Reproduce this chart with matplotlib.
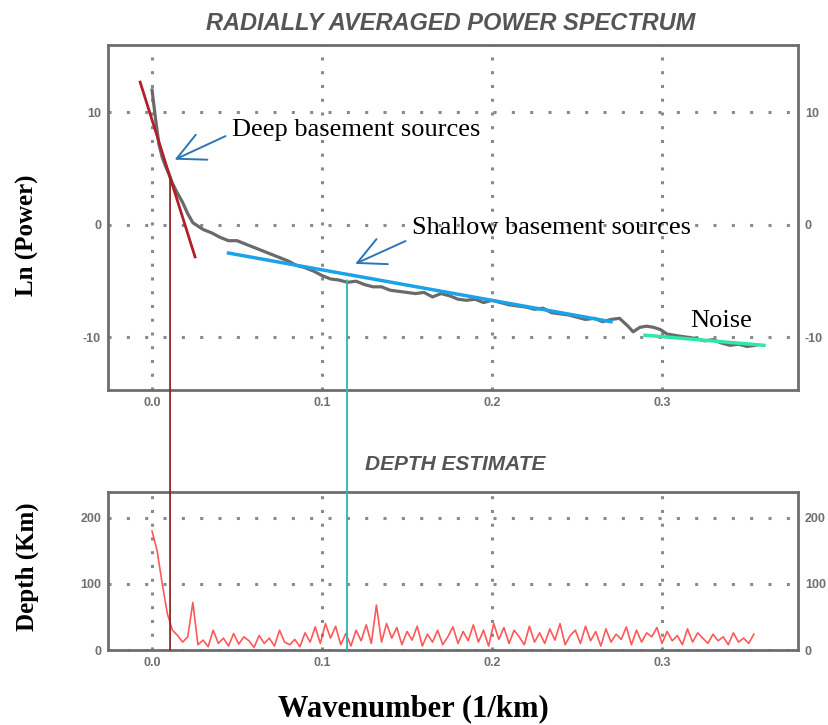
import matplotlib
matplotlib.use('Agg')
import matplotlib.pyplot as plt
from matplotlib.patches import ConnectionPatch

# 径向平均功率谱（灰色曲线）
k_spec = [0.000, 0.002, 0.004, 0.006, 0.008, 0.010, 0.012, 0.015, 0.018, 0.021,
          0.024, 0.027, 0.030, 0.035, 0.040, 0.045, 0.050, 0.055, 0.060, 0.065,
          0.070, 0.075, 0.080, 0.085, 0.090, 0.095, 0.100, 0.105, 0.110, 0.115,
          0.120, 0.125, 0.130, 0.135, 0.140, 0.145, 0.150, 0.155, 0.160, 0.165,
          0.170, 0.175, 0.180, 0.185, 0.190, 0.195, 0.200, 0.205, 0.210, 0.215,
          0.220, 0.225, 0.230, 0.235, 0.240, 0.245, 0.250, 0.255, 0.260, 0.265,
          0.270, 0.275, 0.280, 0.283, 0.287, 0.291, 0.295, 0.299, 0.303, 0.307,
          0.311, 0.316, 0.320, 0.325, 0.330, 0.335, 0.340, 0.345, 0.350, 0.355]
ln_power = [12.0, 9.5, 7.2, 6.0, 5.2, 4.5, 3.7, 2.8, 2.0, 1.0,
            0.2, -0.1, -0.4, -0.7, -1.1, -1.4, -1.4, -1.7, -2.0, -2.3,
            -2.6, -2.9, -3.2, -3.6, -3.8, -4.1, -4.5, -4.8, -4.9, -5.1,
            -5.0, -5.3, -5.5, -5.5, -5.8, -5.9, -6.0, -6.1, -6.0, -6.4,
            -6.1, -6.3, -6.6, -6.7, -6.6, -6.9, -6.7, -6.9, -7.1, -7.2,
            -7.3, -7.5, -7.4, -7.8, -7.9, -8.0, -8.2, -8.4, -8.3, -8.6,
            -8.4, -8.3, -9.0, -9.5, -9.1, -9.0, -9.1, -9.3, -9.7, -9.8,
            -9.9, -10.0, -10.1, -10.3, -10.2, -10.5, -10.7, -10.6, -10.8, -10.7]

# 拟合直线的端点 (x, y)
deep_fit = [(-0.007, 12.7), (0.0253, -2.84)]
shallow_fit = [(0.045, -2.5), (0.27, -8.6)]
noise_fit = [(0.29, -9.8), (0.36, -10.7)]

# 深度估计（红色曲线）
k_depth = [round(i * 0.003, 3) for i in range(119)]
depth = [180, 150, 100, 55, 30, 22, 12, 20, 72, 8,
         15, 5, 30, 10, 18, 6, 25, 9, 20, 14,
         4, 22, 10, 18, 6, 30, 12, 8, 16, 5,
         26, 12, 35, 10, 40, 18, 36, 8, 25, 6,
         30, 14, 38, 10, 68, 12, 40, 18, 34, 8,
         28, 15, 36, 6, 24, 12, 30, 8, 20, 35,
         10, 28, 14, 38, 12, 30, 6, 40, 16, 34,
         10, 30, 20, 8, 36, 12, 26, 10, 32, 15,
         40, 8, 22, 30, 10, 36, 14, 28, 6, 32,
         12, 24, 16, 35, 8, 30, 12, 26, 20, 34,
         10, 28, 14, 22, 8, 32, 12, 26, 18, 10,
         24, 14, 20, 8, 26, 12, 18, 10, 24]

# 两条竖直标记线：(波数, 上图起点)
deep_mark = (0.0106, 4.2)
shallow_mark = (0.1147, -4.9)

spec_ticks = [-10, 0, 10]
depth_ticks = [0, 100, 200]
k_ticks = [0.0, 0.1, 0.2, 0.3]

frame_color = '#6e6e6e'
grid_color = '#8a8a8a'
serif = ['Liberation Serif', 'DejaVu Serif']
sans = ['Liberation Sans', 'DejaVu Sans']

fig = plt.figure(figsize=(8.29, 7.25), dpi=100)
ax1 = fig.add_axes([0.1303, 0.4621, 0.8323, 0.4759])
ax2 = fig.add_axes([0.1303, 0.1034, 0.8323, 0.2179])


def style_axes(ax, yticks):
    ax.set_xticks(k_ticks)
    ax.set_xticklabels(['%.1f' % t for t in k_ticks])
    ax.set_yticks(yticks)
    ax.set_yticklabels([str(t) for t in yticks])
    ax.tick_params(length=0, labelright=True, labelsize=9, labelcolor='#6f6f6f',
                   pad=5)
    for lab in ax.get_xticklabels() + ax.get_yticklabels():
        lab.set_fontweight('bold')
        lab.set_family(sans)
    for sp in ax.spines.values():
        sp.set_color(frame_color)
        sp.set_linewidth(2)
    ax.xaxis.grid(True, color=grid_color, linestyle=(0, (1, 3.5)), linewidth=2.2)
    ax.yaxis.grid(True, color=grid_color, linestyle=(0, (1, 5)), linewidth=2.2)
    ax.set_axisbelow(True)
    ax.set_xlim(-0.0259, 0.38)


# 上图：功率谱
style_axes(ax1, spec_ticks)
ax1.set_ylim(-14.67, 16.0)
ax1.plot(k_spec, ln_power, color='#6a6a6a', lw=2.3)
ax1.plot([p[0] for p in deep_fit], [p[1] for p in deep_fit], color='#b0202a', lw=2)
ax1.plot([p[0] for p in shallow_fit], [p[1] for p in shallow_fit], color='#1aa3e8', lw=2.5)
ax1.plot([p[0] for p in noise_fit], [p[1] for p in noise_fit], color='#2ee8a8', lw=2.5)

arrow = dict(arrowstyle='->, head_length=0.9, head_width=0.45', color='#2e75b6',
             lw=1.4, mutation_scale=22)
ax1.annotate('', xy=(0.0118, 5.7), xytext=(0.0447, 8.0), arrowprops=arrow)
ax1.annotate('', xy=(0.118, -3.56), xytext=(0.1506, -1.33), arrowprops=arrow)
ax1.text(0.047, 8.44, 'Deep basement sources', family=serif, fontsize=19,
         ha='left', va='center')
ax1.text(0.153, -0.27, 'Shallow basement sources', family=serif, fontsize=19,
         ha='left', va='center')
ax1.text(0.3165, -8.5, 'Noise', family=serif, fontsize=19, ha='left', va='center')

# 下图：深度估计
style_axes(ax2, depth_ticks)
ax2.set_ylim(0, 239)
ax2.plot(k_depth, depth, color='#ff3b3b', lw=1.2, alpha=0.85)

# 贯穿两图的竖线
for (kx, ytop), col in [(deep_mark, '#8b2a2a'), (shallow_mark, '#2bb5bd')]:
    con = ConnectionPatch(xyA=(kx, ytop), coordsA=ax1.transData,
                          xyB=(kx, 0), coordsB=ax2.transData,
                          color=col, lw=1.3)
    fig.add_artist(con)

# 标题和轴标签
fig.text(451 / 829, 1 - 24 / 725, 'RADIALLY AVERAGED POWER SPECTRUM', family=sans,
         fontsize=17, fontweight='bold', style='italic', color='#555555',
         ha='center', va='center')
fig.text(455 / 829, 1 - 464 / 725, 'DEPTH ESTIMATE', family=sans, fontsize=15,
         fontweight='bold', style='italic', color='#555555', ha='center', va='center')
fig.text(27 / 829, 1 - 235 / 725, 'Ln (Power)', family=serif, fontsize=18,
         fontweight='bold', rotation=90, ha='center', va='center')
fig.text(27 / 829, 1 - 567 / 725, 'Depth (Km)', family=serif, fontsize=18,
         fontweight='bold', rotation=90, ha='center', va='center')
fig.text(413 / 829, 1 - 709 / 725, 'Wavenumber (1/km)', family=serif, fontsize=22,
         fontweight='bold', ha='center', va='center')

fig.savefig('out.png', dpi=100)
